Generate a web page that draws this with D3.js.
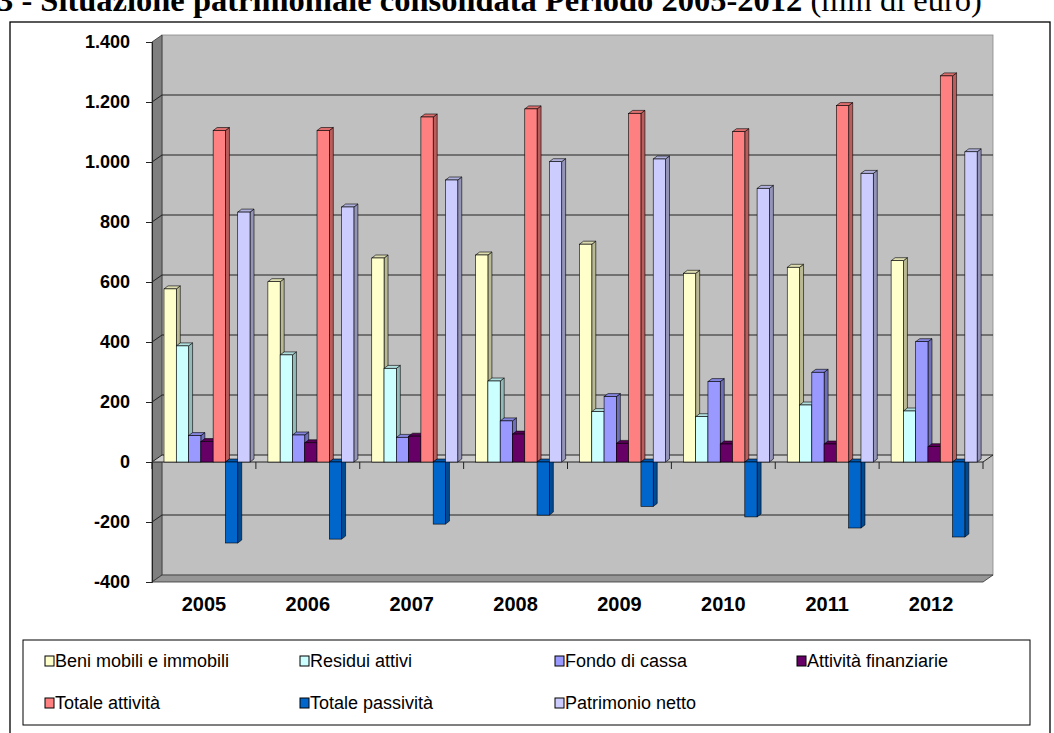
<!DOCTYPE html>
<html>
<head>
<meta charset="utf-8">
<script src="https://cdn.jsdelivr.net/npm/d3@7"></script>
<style>
  body { margin: 0; background: #fff; }
  svg { display: block; }
</style>
</head>
<body>
<script>
const years = ['2005', '2006', '2007', '2008', '2009', '2010', '2011', '2012']
const seriesNames = ['Beni mobili e immobili', 'Residui attivi', 'Fondo di cassa', 'Attività finanziarie',
    'Totale attività', 'Totale passività', 'Patrimonio netto']
const beni = [577, 601, 680, 690, 726, 629, 649, 671]
const residui = [387, 357, 312, 270, 168, 151, 190, 170]
const fondo = [88, 90, 82, 137, 218, 268, 299, 401]
const attFin = [68, 64, 86, 93, 62, 60, 60, 51]
const totAtt = [1105, 1105, 1150, 1177, 1162, 1101, 1188, 1287]
const totPass = [-270, -257, -207, -177, -148, -183, -220, -250]
const patrimonio = [833, 850, 940, 1001, 1010, 912, 962, 1034]
const yTicks = [-400, -200, 0, 200, 400, 600, 800, 1000, 1200, 1400]
const colors = ['#FFFFCC', '#CCFFFF', '#9999FF', '#660066', '#FF8080', '#0066CC', '#CCCCFF']

const allSeries = [beni, residui, fondo, attFin, totAtt, totPass, patrimonio]

const W = 1054, H = 733
const svg = d3.select('body').append('svg')
    .attr('width', W)
    .attr('height', H)

// title (cut off at top as in the original page)
const title = svg.append('text')
    .attr('x', -3)
    .attr('y', 11)
    .style('font-family', '"Liberation Serif", "Times New Roman", serif')
    .style('font-size', '32.5px')
title.append('tspan').style('font-weight', 'bold')
    .text('3 - Situazione patrimoniale consolidata Periodo 2005-2012')
title.append('tspan').text(' (mln di euro)')

// outer frame
svg.append('rect')
    .attr('x', 10).attr('y', 22)
    .attr('width', 1040).attr('height', 740)
    .style('fill', 'none').style('stroke', '#000').style('stroke-width', 1.3)

const left = 152, right = 983
const DX = 10, DY = -7     // depth of the 3D box
const BDX = 4, BDY = -3    // depth of the bars

const y = d3.scaleLinear().domain([-400, 1400]).range([582, 42])
const x0 = d3.scaleBand().domain(years).range([left, right])
const x1 = d3.scaleBand().domain(seriesNames).range([12, 98])

const g = svg.append('g')

// back wall
g.append('rect')
    .attr('x', left + DX).attr('y', y(1400) + DY)
    .attr('width', right - left).attr('height', y(-400) - y(1400))
    .style('fill', '#c0c0c0')
    .style('stroke', '#888').style('stroke-width', 0.8)

// side wall
g.append('path')
    .attr('d', `M${left},${y(1400)}L${left + DX},${y(1400) + DY}L${left + DX},${y(-400) + DY}L${left},${y(-400)}Z`)
    .style('fill', '#7f7f7f')
    .style('stroke', '#333').style('stroke-width', 0.8)

// floor
g.append('path')
    .attr('d', `M${left},${y(-400)}L${left + DX},${y(-400) + DY}L${right + DX},${y(-400) + DY}L${right},${y(-400)}Z`)
    .style('fill', '#969696')
    .style('stroke', '#333').style('stroke-width', 0.8)

// gridlines
g.selectAll('.grid')
    .data(yTicks.filter(d => d > -400 && d < 1400 && d !== 0))
    .enter().append('path')
    .attr('class', 'grid')
    .attr('d', d => `M${left},${y(d)}L${left + DX},${y(d) + DY}L${right + DX},${y(d) + DY}`)
    .style('fill', 'none')
    .style('stroke', '#222').style('stroke-width', 1)

// zero plane
g.append('path')
    .attr('d', `M${left},${y(0)}L${left + DX},${y(0) + DY}L${right + DX},${y(0) + DY}L${right},${y(0)}Z`)
    .style('fill', '#cbcbcb')
    .style('stroke', '#222').style('stroke-width', 1)

// category ticks on the zero line
g.selectAll('.ctick')
    .data(d3.range(years.length + 1))
    .enter().append('line')
    .attr('class', 'ctick')
    .attr('x1', i => left + i * x0.step())
    .attr('x2', i => left + i * x0.step())
    .attr('y1', y(0)).attr('y2', y(0) + 7)
    .style('stroke', '#222').style('stroke-width', 1)

// bars
const bw = x1.bandwidth()
years.forEach((yr, i) => {
    seriesNames.forEach((s, j) => {
        const v = allSeries[j][i]
        const c = d3.color(colors[j])
        const bx = x0(yr) + x1(s)
        const yTop = y(Math.max(v, 0))
        const yBot = y(Math.min(v, 0))
        const bar = g.append('g')
        bar.append('path')
            .attr('d', `M${bx + bw},${yTop}L${bx + bw + BDX},${yTop + BDY}L${bx + bw + BDX},${yBot + BDY}L${bx + bw},${yBot}Z`)
            .style('fill', c.darker(0.9))
            .style('stroke', '#000').style('stroke-width', 0.6)
        bar.append('path')
            .attr('d', `M${bx},${yTop}L${bx + BDX},${yTop + BDY}L${bx + bw + BDX},${yTop + BDY}L${bx + bw},${yTop}Z`)
            .style('fill', c.darker(0.4))
            .style('stroke', '#000').style('stroke-width', 0.6)
        bar.append('rect')
            .attr('x', bx).attr('y', yTop)
            .attr('width', bw).attr('height', yBot - yTop)
            .style('fill', colors[j])
            .style('stroke', '#000').style('stroke-width', 0.6)
    })
})

// y axis
const it = d3.formatLocale({ decimal: ',', thousands: '.', grouping: [3], currency: ['€', ''], minus: '-' })
const yAxis = svg.append('g')
    .attr('transform', `translate(${left}, 0)`)
    .call(d3.axisLeft(y).tickValues(yTicks).tickSize(6).tickPadding(16).tickFormat(it.format(',')))
yAxis.select('.domain').style('stroke', '#222')
yAxis.selectAll('.tick line').style('stroke', '#222')
yAxis.selectAll('text')
    .style('font-family', '"Liberation Sans", Arial, sans-serif')
    .style('font-size', '18px')
    .style('font-weight', 'bold')
    .style('fill', '#000')

// x labels
const xAxis = svg.append('g')
    .attr('transform', `translate(0, 597)`)
    .call(d3.axisBottom(x0).tickSize(0).tickPadding(0))
xAxis.select('.domain').remove()
xAxis.selectAll('text')
    .attr('dy', '0.71em')
    .style('font-family', '"Liberation Sans", Arial, sans-serif')
    .style('font-size', '20px')
    .style('font-weight', 'bold')
    .style('fill', '#000')

// legend
const legend = svg.append('g')
legend.append('rect')
    .attr('x', 23).attr('y', 640)
    .attr('width', 1007).attr('height', 85)
    .style('fill', '#fff').style('stroke', '#000').style('stroke-width', 1)
const colX = [45, 300, 555, 797]
const rowY = [661, 703]
const items = legend.selectAll('.item')
    .data(seriesNames)
    .enter().append('g')
    .attr('class', 'item')
    .attr('transform', (d, i) => `translate(${colX[i % 4]}, ${rowY[Math.floor(i / 4)]})`)
items.append('rect')
    .attr('x', 0).attr('y', -5)
    .attr('width', 9).attr('height', 10)
    .style('fill', (d, i) => colors[i])
    .style('stroke', '#000').style('stroke-width', 1)
items.append('text')
    .attr('x', 10).attr('y', 0)
    .attr('dy', '0.35em')
    .style('font-family', '"Liberation Sans", Arial, sans-serif')
    .style('font-size', '18px')
    .text(d => d)
</script>
</body>
</html>
